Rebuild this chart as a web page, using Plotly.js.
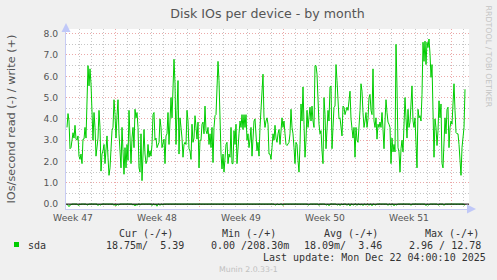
<!DOCTYPE html>
<html>
<head>
<meta charset="utf-8">
<script src="https://cdn.plot.ly/plotly-3.0.1.min.js"></script>
<style>
  html, body { margin: 0; padding: 0; background: #F0F0F0; }
  #chart { width: 497px; height: 280px; }
</style>
</head>
<body>
<div id="chart"></div>
<script>
// ---------------- data ----------------
const chartTitle = 'Disk IOs per device - by month';
const yTitle = 'IOs/second read (-) / write (+)';
const seriesName = 'sda';

// first sample time and sample step (2-hour consolidated RRA)
const firstSample = '2025-11-19T00:00:00Z';
const stepHours = 2;

// write IOs/s (+), one value per 2 hours
const writeIOs = [
  3.6,4.25,3.9,2.6,2.65,3.0,3.35,3.1,3.7,3.05,
  3.0,3.2,2.25,2.1,2.35,1.9,3.05,3.05,3.6,3.1,
  5.15,6.5,5.55,6.35,5.65,3.6,3.0,4.3,3.6,2.25,
  2.75,3.1,4.4,3.6,1.55,2.35,2.5,2.8,1.9,2.5,
  3.2,2.2,1.35,1.7,2.65,3.45,3.6,4.9,4.2,3.1,
  4.15,4.9,3.3,2.35,1.7,3.6,2.05,1.4,2.65,1.7,
  2.8,2.05,4.4,3.45,1.9,3.1,3.6,2.65,4.45,4.05,
  4.3,3.6,1.7,1.5,3.3,1.1,2.2,3.5,2.35,1.9,
  2.05,2.8,2.2,2.5,2.25,2.8,4.2,4.3,3.0,3.1,
  2.65,2.8,2.9,4.0,3.6,2.65,2.8,3.05,1.9,3.2,
  3.3,
  4.3,2.8,3.6,5.0,4.05,5.8,6.8,5.65,2.8,4.4,
  5.8,2.35,4.05,3.6,3.1,2.2,2.8,2.9,2.8,4.4,
  3.9,2.6,2.5,2.1,3.75,2.9,3.1,4.15,3.3,3.05,
  3.85,1.7,3.0,3.0,3.75,3.85,3.3,4.6,3.45,3.3,
  3.6,2.8,3.3,2.65,3.6,1.95,3.6,4.15,4.2,5.25,
  6.7,5.8,3.6,2.35,1.65,2.35,1.5,2.05,2.8,2.9,
  1.9,2.35,2.2,3.6,1.9,1.9,3.45,2.8,3.75,1.9,
  3.0,3.3,3.9,3.6,4.2,3.5,4.2,3.6,4.2,3.0,
  3.3,2.65,3.0,3.6,2.25,3.1,3.9,4.0,3.3,2.5,
  2.9,2.25,3.6,4.4,5.8,6.1,4.05,3.6,3.9,4.05,
  3.75,2.35,
  2.35,2.1,2.65,3.3,3.0,3.7,3.1,2.9,3.3,3.5,
  2.8,3.45,4.05,3.6,3.9,3.3,2.8,2.75,2.8,2.9,
  3.3,4.45,3.6,3.3,2.65,1.9,2.9,2.8,2.05,1.5,
  2.8,4.7,3.9,5.5,3.75,2.2,3.0,4.4,3.6,4.2,
  4.55,3.9,4.6,3.9,3.6,6.5,6.5,6.1,4.7,3.75,
  3.3,3.45,2.5,1.9,5.0,4.2,2.6,3.6,4.4,3.9,
  5.5,5.55,2.6,3.6,4.55,4.6,6.55,5.8,4.55,4.0,
  4.05,3.6,3.2,4.6,4.55,4.2,4.45,4.55,4.4,4.9,
  5.3,4.0,3.45,3.1,3.6,2.2,3.6,3.0,2.9,3.6,
  4.4,5.65,5.3,4.3,3.6,3.9,4.3,3.6,4.0,5.0,
  5.15,4.4,
  4.2,6.35,3.9,3.6,4.05,3.05,3.75,3.6,3.85,3.6,
  4.3,3.5,2.6,3.9,4.9,4.3,3.85,3.75,3.6,1.9,
  3.1,2.45,2.8,2.45,7.5,5.5,2.65,2.45,1.5,2.6,
  3.0,2.45,3.6,5.0,4.05,3.1,4.45,3.6,3.85,4.55,
  5.55,3.9,3.6,4.05,3.1,1.7,4.45,4.05,4.15,3.9,
  5.15,7.6,6.7,7.65,6.55,7.6,7.35,7.75,7.05,5.95,
  6.55,4.05,2.2,4.0,3.6,2.75,3.45,4.85,4.05,4.7,
  1.9,1.7,3.3,4.05,3.3,4.45,4.55,2.65,3.6,3.9,
  3.75,4.55,5.65,4.4,3.35,3.3,3.3,2.8,2.1,1.35,
  2.65,3.1,3.6,5.39
];

// read IOs/s (-), drawn below zero
const readIOs = [
  0,.08,.12,.05,0,0,0,0,0,0, 0,.06,.04,0,0,0,0,0,0,0,
  .05,0,0,0,0,0,0,0,0,0, 0,.07,0,.05,0,0,0,0,0,0,
  0,0,0,0,0,0,0,.06,0,.08, 0,.05,0,0,0,0,0,0,0,0,
  0,0,0,0,0,0,.05,0,.09,0, .06,0,0,.05,0,0,0,0,0,0,
  0,0,0,0,0,.07,0,0,.05,0, .1,0,0,.06,0,0,.05,0,0,0,
  0,0,0,0,0,0,0,0,0,0, 0,0,0,0,0,0,0,0,0,0,
  0,0,0,0,0,0,0,0,0,0, 0,0,0,0,0,0,0,0,0,0,
  0,0,0,0,0,0,0,0,0,0, .03,0,0,0,0,0,0,0,0,0,
  0,0,0,0,0,0,0,0,0,0, 0,0,0,0,0,0,0,0,0,0,
  0,0,0,0,0,0,0,0,0,0, 0,0,0,0,0,0,0,0,0,0,
  0,0,0,0,0,0,0,0,.05,0, 0,0,.04,0,0,0,.06,0,0,0,
  0,0,0,0,0,0,0,0,0,0, 0,0,0,0,0,0,0,0,0,0,
  0,.05,0,0,0,0,0,0,0,0, 0,0,.06,0,0,0,0,0,0,.05,
  0,0,.08,0,0,0,0,0,0,0, .05,0,0,.07,0,0,.04,0,0,0,
  .06,0,0,.09,0,0,.05,0,0,0, .06,0,0,.04,0,0,.07,0,0,.05,
  0,0,.06,0,0,.08,0,0,.05,0, 0,0,0,0,0,0,0,0,0,0,
  0,.06,0,0,.05,0,0,.08,0,.05, 0,0,0,0,0,0,0,0,0,0,
  0,0,0,0,.06,0,0,0,0,0, 0,0,0,0,0,0,0,0,0,.07,
  0,.05,0,0,0,0,0,0,0,0, 0,.05,0,0,0,0,0,.06,0,0,
  0,0,0,0,0,0,0,0,0,0, 0,0,0,0,0,0,0,.05,.02
];

// x axis: red grid at week starts, labels centred half a week earlier
const weekLabels = ['Week 47', 'Week 48', 'Week 49', 'Week 50', 'Week 51'];
const weekStarts = ['2025-11-23', '2025-11-30', '2025-12-07', '2025-12-14', '2025-12-21'];
const xRange = ['2025-11-18 22:00', '2025-12-22 12:00'];

// legend table
const legendHeaders = ['Cur (-/+)', 'Min (-/+)', 'Avg (-/+)', 'Max (-/+)'];
const legendValues = ['18.75m/  5.39', '0.00 /208.30m', '18.09m/  3.46', '2.96 / 12.78'];
const lastUpdate = 'Last update: Mon Dec 22 04:00:10 2025';
const versionText = 'Munin 2.0.33-1';
const creditText = 'RRDTOOL / TOBI OETIKER';

// ---------------- build ----------------
function fmt(ms) {
  const d = new Date(ms);
  const p = n => String(n).padStart(2, '0');
  return d.getUTCFullYear() + '-' + p(d.getUTCMonth() + 1) + '-' + p(d.getUTCDate()) +
         ' ' + p(d.getUTCHours()) + ':' + p(d.getUTCMinutes());
}
const t0 = Date.parse(firstSample);
const times = writeIOs.map((_, i) => fmt(t0 + i * stepHours * 3600e3));

const GREEN = '#00CC00';
const L = 66, R = 469, T = 29, B = 209;
const px = x => (x - L) / (R - L);
const py = y => (B - y) / (B - T);
const nb = s => s.replace(/ /g, '\u00A0');

const mono = { family: 'DejaVu Sans Mono', size: 10, color: '#333' };
const MAJ = '#EBA9A9', MIN = '#C6C6C6', DASH = '1px,2px';

const traces = [
  { x: times, y: readIOs.map(v => -v), type: 'scatter', mode: 'lines',
    line: { color: GREEN, width: 1 }, name: seriesName + ' read', showlegend: false, hoverinfo: 'skip' },
  { x: times, y: writeIOs, type: 'scatter', mode: 'lines',
    line: { color: GREEN, width: 1 }, name: seriesName, showlegend: false, hoverinfo: 'skip' }
];

const annotations = [
  { text: yTitle, xref: 'paper', yref: 'paper', x: px(10.5), y: py(119), textangle: -90,
    showarrow: false, font: { family: 'DejaVu Sans', size: 11.3, color: '#555' }, xanchor: 'center', yanchor: 'middle' },
  { text: creditText, xref: 'paper', yref: 'paper', x: px(488.5), y: py(56), textangle: 90,
    showarrow: false, font: { family: 'DejaVu Sans', size: 7.9, color: '#C4C4C4' }, xanchor: 'center', yanchor: 'middle' },
  { text: nb(seriesName), xref: 'paper', yref: 'paper', x: px(26), y: py(245), showarrow: false,
    font: mono, xanchor: 'left', yanchor: 'middle' },
  { text: nb(lastUpdate), xref: 'paper', yref: 'paper', x: px(261), y: py(257), showarrow: false,
    font: mono, xanchor: 'left', yanchor: 'middle' },
  { text: versionText, xref: 'paper', yref: 'paper', x: px(248.5), y: py(269), showarrow: false,
    font: { family: 'DejaVu Sans', size: 7.8, color: '#C0C0C0' }, xanchor: 'center', yanchor: 'middle' },
  // axis arrows
  { text: '', xref: 'paper', yref: 'paper', x: 0, y: py(23), ax: 0, ay: 8, showarrow: true,
    arrowhead: 2, arrowsize: 1.2, arrowwidth: 1.5, arrowcolor: '#C0C8F8' },
  { text: '', xref: 'paper', yref: 'paper', x: px(476), y: 0, ax: -8, ay: 0, showarrow: true,
    arrowhead: 2, arrowsize: 1.2, arrowwidth: 1.5, arrowcolor: '#C0C8F8' }
];
const headerX = [116.7, 220, 321.7, 423];
const valueX = [104, 209, 302, 407];
legendHeaders.forEach((h, i) => annotations.push({ text: nb(h), xref: 'paper', yref: 'paper',
  x: px(headerX[i]), y: py(233), showarrow: false, font: mono, xanchor: 'left', yanchor: 'middle' }));
legendValues.forEach((v, i) => annotations.push({ text: nb(v), xref: 'paper', yref: 'paper',
  x: px(valueX[i]), y: py(245), showarrow: false, font: mono, xanchor: 'left', yanchor: 'middle' }));

const shapes = [
  { type: 'line', xref: 'paper', x0: 0, x1: 1, yref: 'y', y0: 0, y1: 0,
    line: { color: '#000000', width: 1 }, layer: 'above' },
  { type: 'rect', xref: 'paper', yref: 'paper', x0: px(14), x1: px(19), y0: py(247), y1: py(242),
    fillcolor: GREEN, line: { width: 0 } }
];

const tickFont = { family: 'DejaVu Sans', size: 9.2, color: '#555' };

const layout = {
  width: 497, height: 280,
  margin: { l: L, r: 497 - R, t: T, b: 280 - B, pad: 0 },
  paper_bgcolor: '#F0F0F0', plot_bgcolor: '#FFFFFF',
  showlegend: false,
  title: { text: chartTitle, x: 0.5, xanchor: 'center', xref: 'paper', y: 1 - 14 / 280, yref: 'container', yanchor: 'middle',
           font: { family: 'DejaVu Sans', size: 12.6, color: '#555' } },
  xaxis: {
    type: 'date', range: xRange, tickmode: 'array', tickvals: weekStarts, ticktext: weekLabels,
    ticklabelshift: -42, ticks: '', tickfont: tickFont,
    showgrid: true, gridcolor: MAJ, gridwidth: 1, griddash: DASH,
    minor: { tickmode: 'linear', tick0: '2025-11-19', dtick: 86400000, showgrid: true,
             gridcolor: MIN, gridwidth: 1, griddash: DASH, ticks: '' },
    zeroline: false,
    showline: true, linecolor: '#C8CCF4', linewidth: 1, fixedrange: true
  },
  yaxis: {
    range: [-0.23, 8.22], tickmode: 'linear', tick0: 0, dtick: 1, tickformat: '.1f',
    showgrid: true, gridcolor: MAJ, gridwidth: 1, griddash: DASH,
    minor: { tickmode: 'linear', dtick: 0.5, tick0: 0, showgrid: true, gridcolor: MIN, gridwidth: 1, griddash: DASH, ticks: '' },
    zeroline: false, ticks: '', ticklabelstandoff: 5, tickfont: tickFont,
    showline: true, linecolor: '#C8CCF4', linewidth: 1, fixedrange: true
  },
  annotations: annotations,
  shapes: shapes,
  hovermode: false
};

Plotly.newPlot('chart', traces, layout, { displayModeBar: false, staticPlot: true });
</script>
</body>
</html>
